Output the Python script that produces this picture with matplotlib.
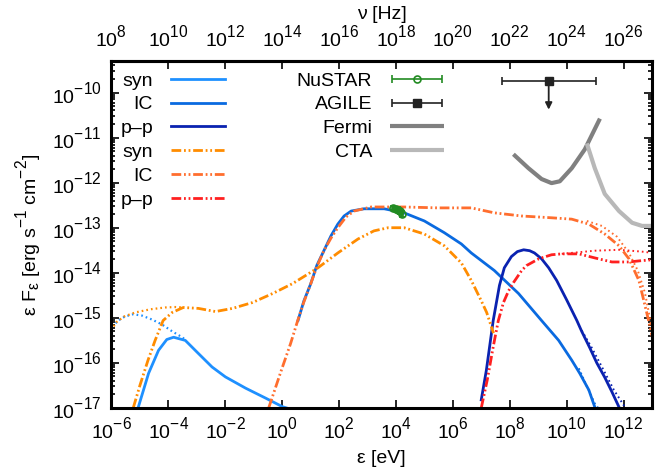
import numpy as np
import matplotlib
matplotlib.use('Agg')
import matplotlib.pyplot as plt
import matplotlib._mathtext as _mt
from matplotlib.ticker import FixedLocator, NullLocator, LogLocator, NullFormatter
from matplotlib.container import ErrorbarContainer
from matplotlib.legend_handler import HandlerErrorbar

# gnuplot-like larger, higher superscripts
_mt.SHRINK_FACTOR = 0.8
try:
    _mt.FontConstantsBase.sup1 = 0.95
except Exception:
    pass

plt.rcParams['font.family'] = ['Liberation Sans', 'DejaVu Sans']
plt.rcParams['mathtext.fontset'] = 'custom'
plt.rcParams['mathtext.rm'] = 'Liberation Sans'
plt.rcParams['mathtext.it'] = 'Liberation Sans:italic'
plt.rcParams['mathtext.bf'] = 'Liberation Sans:bold'
plt.rcParams['lines.scale_dashes'] = False

# ---------------- data (log10 eps [eV], log10 eps F_eps [erg/s/cm2]) ----------------
# leptonic (blue, solid)
syn_b_x = [-5.06, -4.69, -4.34, -4.05, -3.81, -3.40, -2.94, -2.46, -1.99, -1.28, -0.58, 0.01, 0.37]
syn_b_y = [-17.0, -16.23, -15.72, -15.48, -15.43, -15.50, -15.79, -16.09, -16.31, -16.56, -16.78, -16.97, -17.04]
syn_b_unabs_x = [-5.85, -5.76, -5.52, -5.23, -4.92, -4.56, -4.21, -3.86, -3.51, -3.37]
syn_b_unabs_y = [-15.12, -15.06, -14.97, -14.92, -14.95, -15.04, -15.15, -15.30, -15.43, -15.50]

ic_b_x = [0.56, 0.77, 1.01, 1.22, 1.47, 1.72, 1.96, 2.18, 2.43, 2.88, 3.59, 4.29, 5.00, 5.70, 6.30,
          6.65, 7.46, 8.31, 9.12, 9.72, 10.18, 10.46, 10.78, 10.99]
ic_b_y = [-15.06, -14.62, -14.24, -13.84, -13.51, -13.18, -12.92, -12.74, -12.63, -12.58, -12.58, -12.67,
          -12.85, -13.11, -13.36, -13.56, -13.95, -14.46, -15.06, -15.50, -15.94, -16.23, -16.60, -16.98]
ic_b_unabs_x = [10.43, 10.71, 10.99, 11.13]
ic_b_unabs_y = [-16.12, -16.52, -16.90, -17.02]

pp_b_x = [7.00, 7.18, 7.42, 7.64, 7.81, 8.06, 8.27, 8.49, 8.70, 8.87, 9.12, 9.37, 9.65, 10.00,
          10.36, 10.53, 10.81, 11.06, 11.34, 11.59, 11.84]
pp_b_y = [-16.82, -16.16, -15.06, -14.28, -13.89, -13.64, -13.53, -13.49, -13.51, -13.56, -13.69,
          -13.89, -14.17, -14.60, -15.06, -15.30, -15.66, -16.00, -16.32, -16.64, -16.98]
pp_b_unabs_x = [10.53, 10.88, 11.24, 11.66, 12.05]
pp_b_unabs_y = [-15.28, -15.66, -16.09, -16.60, -16.98]

# hadronic (orange / red, dash-dot-dot)
syn_o_x = [-5.23, -4.99, -4.71, -4.46, -4.18, -3.86, -3.47, -2.94, -2.34, -1.74, -1.04, -0.33, 0.37,
           0.83, 1.26, 1.96, 2.67, 3.23, 3.73, 4.29, 5.00, 5.70, 6.30, 6.65, 7.00, 7.19, 7.43]
syn_o_y = [-17.0, -16.49, -15.94, -15.50, -15.06, -14.88, -14.77, -14.79, -14.86, -14.79, -14.66,
           -14.46, -14.24, -14.06, -13.89, -13.56, -13.25, -13.07, -13.00, -13.00, -13.14, -13.40,
           -13.78, -14.17, -14.62, -14.88, -15.34]
syn_o_unabs_x = [-6.0, -5.83, -5.55, -5.16, -4.63, -4.11, -3.75, -3.47]
syn_o_unabs_y = [-15.28, -15.10, -14.97, -14.88, -14.81, -14.77, -14.76, -14.77]

ic_o_x = [-0.47, -0.05, 0.30, 0.55, 0.76, 1.01, 1.22, 1.47, 1.72, 1.96, 2.25, 2.53, 3.13, 4.29, 5.49,
          6.65, 7.46, 8.42, 9.48, 10.18, 10.78, 11.34, 11.84, 12.19, 12.54, 12.82, 13.04]
ic_o_y = [-17.0, -16.21, -15.57, -15.06, -14.66, -14.24, -13.87, -13.51, -13.23, -13.00, -12.76,
          -12.63, -12.54, -12.54, -12.56, -12.56, -12.67, -12.74, -12.78, -12.81, -12.92, -13.14,
          -13.40, -13.69, -14.17, -14.90, -15.50]
ic_o_unabs_x = [10.71, 11.24, 11.77, 12.19, 12.50, 12.75, 12.93, 13.04]
ic_o_unabs_y = [-12.85, -12.96, -13.20, -13.56, -13.95, -14.44, -15.01, -15.45]

pp_r_x = [7.00, 7.21, 7.43, 7.60, 7.78, 7.96, 8.13, 8.42, 8.59, 9.02, 9.47, 9.83, 10.43, 10.99,
          11.59, 12.19, 12.64, 13.04]
pp_r_y = [-17.0, -16.38, -15.61, -15.06, -14.66, -14.40, -14.22, -13.95, -13.84, -13.69, -13.60,
          -13.58, -13.58, -13.67, -13.76, -13.76, -13.73, -13.71]
pp_r_unabs_x = [9.83, 10.99, 11.84, 12.64, 13.04]
pp_r_unabs_y = [-13.58, -13.51, -13.49, -13.53, -13.56]

# sensitivities
fermi_x = [8.13, 8.66, 9.12, 9.47, 9.76, 10.18, 10.64, 11.17]
fermi_y = [-11.37, -11.68, -11.92, -12.01, -11.97, -11.68, -11.26, -10.58]
cta_x = [10.71, 10.99, 11.34, 11.84, 12.30, 12.65, 13.10]
cta_y = [-11.13, -11.68, -12.25, -12.63, -12.89, -12.96, -12.96]

# observations
nustar_x = [3.90, 4.00, 4.08, 4.15, 4.22]
nustar_y = [-12.56, -12.58, -12.60, -12.64, -12.70]
nustar_yerr = [0.04, 0.05, 0.05, 0.06, 0.07]
nustar_xerr = [0.04, 0.04, 0.04, 0.04, 0.04]

agile_x = 9.37
agile_x_lo = 7.72
agile_x_hi = 11.03
agile_y = -9.74
agile_arrow_y = -10.38

# ---------------- colours ----------------
c_syn_b = '#1e90ff'
c_ic_b = '#0a6ae0'
c_pp_b = '#0a22b0'
c_syn_o = '#ff8c00'
c_ic_o = '#ff6e2e'
c_pp_r = '#ff2020'
c_nustar = '#228b22'
c_agile = '#222222'
c_fermi = '#808080'
c_cta = '#b8b8b8'

ddd = (0, (7.0, 2.0, 1.3, 2.0, 1.3, 2.0))
dot = (0, (1.2, 2.2))

def L(a):
    return 10.0 ** np.asarray(a)

fig = plt.figure(figsize=(6.7, 4.75), dpi=100)
ax = fig.add_axes([111.3 / 670, 1 - 408 / 475, (652 - 111.3) / 670, (408 - 61) / 475])
ax.set_xscale('log')
ax.set_yscale('log')
ax.set_xlim(1e-6, 1e13)
ax.set_ylim(1e-17, 5e-10)

lw = 2.0
# unabsorbed dotted
ax.plot(L(syn_b_unabs_x), L(syn_b_unabs_y), color=c_syn_b, lw=1.6, ls=dot)
ax.plot(L(syn_o_unabs_x), L(syn_o_unabs_y), color=c_syn_o, lw=1.6, ls=dot)
ax.plot(L(ic_b_unabs_x), L(ic_b_unabs_y), color=c_ic_b, lw=1.4, ls=dot)
ax.plot(L(pp_b_unabs_x), L(pp_b_unabs_y), color=c_pp_b, lw=1.4, ls=dot)
ax.plot(L(ic_o_unabs_x), L(ic_o_unabs_y), color=c_ic_o, lw=1.4, ls=dot)
ax.plot(L(pp_r_unabs_x), L(pp_r_unabs_y), color=c_pp_r, lw=1.4, ls=dot)

h1, = ax.plot(L(syn_b_x), L(syn_b_y), color=c_syn_b, lw=lw, label='syn')
h2, = ax.plot(L(ic_b_x), L(ic_b_y), color=c_ic_b, lw=lw, label='IC')
h3, = ax.plot(L(pp_b_x), L(pp_b_y), color=c_pp_b, lw=lw, label='p\u2013p')
h4, = ax.plot(L(syn_o_x), L(syn_o_y), color=c_syn_o, lw=lw, ls=ddd, label='syn')
h5, = ax.plot(L(ic_o_x), L(ic_o_y), color=c_ic_o, lw=lw, ls=ddd, label='IC')
h6, = ax.plot(L(pp_r_x), L(pp_r_y), color=c_pp_r, lw=lw, ls=ddd, label='p\u2013p')

hf, = ax.plot(L(fermi_x), L(fermi_y), color=c_fermi, lw=3.0, label='Fermi', solid_capstyle='butt')
hc, = ax.plot(L(cta_x), L(cta_y), color=c_cta, lw=3.0, label='CTA', solid_capstyle='butt')

nx = np.asarray(nustar_x)
nxe = np.asarray(nustar_xerr)
ny = np.asarray(nustar_y)
nye = np.asarray(nustar_yerr)
ax.errorbar(L(nx), L(ny),
            xerr=[L(nx) - L(nx - nxe), L(nx + nxe) - L(nx)],
            yerr=[L(ny) - L(ny - nye), L(ny + nye) - L(ny)],
            fmt='o', mfc='none', mec=c_nustar, color=c_nustar, ms=5, mew=1.2, elinewidth=1.2, capsize=2)

ha = ax.errorbar([L(agile_x)], [L(agile_y)],
                 xerr=[[L(agile_x) - L(agile_x_lo)], [L(agile_x_hi) - L(agile_x)]],
                 fmt='s', color=c_agile, ms=6, elinewidth=1.2, capsize=3, capthick=1.2, label='AGILE')
ax.annotate('', xy=(L(agile_x), L(agile_arrow_y)), xytext=(L(agile_x), L(agile_y)),
            arrowprops=dict(arrowstyle='-|>', color=c_agile, lw=1.3, mutation_scale=10, shrinkA=0, shrinkB=0))

# proxy for NuSTAR legend entry
hn = ax.errorbar([np.nan], [np.nan], xerr=[1.0], fmt='o', mfc='none', mec=c_nustar, color=c_nustar,
                 ms=5, mew=1.2, elinewidth=1.2, capsize=3, capthick=1.2, label='NuSTAR')

# ---------------- axes styling ----------------
fs = 14
ax.set_xticks([10.0 ** k for k in range(-6, 13, 2)])
ax.xaxis.set_minor_locator(NullLocator())
ax.yaxis.set_major_locator(FixedLocator([10.0 ** k for k in range(-17, -9)]))
ax.yaxis.set_minor_locator(LogLocator(base=10, subs=np.arange(2, 10), numticks=50))
ax.yaxis.set_minor_formatter(NullFormatter())
ax.tick_params(which='both', direction='in', top=False, right=True, labelsize=fs, width=1.2)
ax.tick_params(which='major', length=6)
ax.tick_params(which='minor', length=3)
ax.tick_params(axis='x', pad=6)
ax.tick_params(axis='y', pad=7)
for s in ax.spines.values():
    s.set_linewidth(2.2)

ax.set_xlabel('ε [eV]', fontsize=fs, labelpad=5)
ax.set_ylabel(r'$\mathregular{ε\ F_{ε}\ [erg\ s^{-1}\ cm^{-2}]}$', fontsize=fs, labelpad=5)

secax = ax.secondary_xaxis('top', functions=(lambda e: e * 1e14, lambda n: n / 1e14))
secax.set_xticks([10.0 ** k for k in range(8, 27, 2)])
secax.xaxis.set_minor_locator(NullLocator())
secax.tick_params(which='both', direction='in', labelsize=fs, width=1.2, length=6, pad=7)
secax.spines['top'].set_linewidth(2.2)
secax.set_xlabel('ν [Hz]', fontsize=fs, labelpad=4)

# ---------------- legends ----------------
top_anchor = (408 - 72) / 347.0
leg1 = ax.legend(handles=[h1, h2, h3, h4, h5, h6], loc='upper right',
                 bbox_to_anchor=((225 - 111.3) / 540.7, top_anchor),
                 frameon=False, markerfirst=False, fontsize=fs, handlelength=2.8,
                 handletextpad=0.9, labelspacing=0.32, borderpad=0, borderaxespad=0)
ax.add_artist(leg1)
leg2 = ax.legend(handles=[hn, ha, hf, hc], loc='upper right',
                 bbox_to_anchor=((444 - 111.3) / 540.7, top_anchor),
                 frameon=False, markerfirst=False, fontsize=fs, handlelength=2.8, numpoints=1,
                 handletextpad=0.9, labelspacing=0.32, borderpad=0, borderaxespad=0,
                 handler_map={ErrorbarContainer: HandlerErrorbar(xerr_size=1.3)})

fig.savefig('out.png', dpi=100)
